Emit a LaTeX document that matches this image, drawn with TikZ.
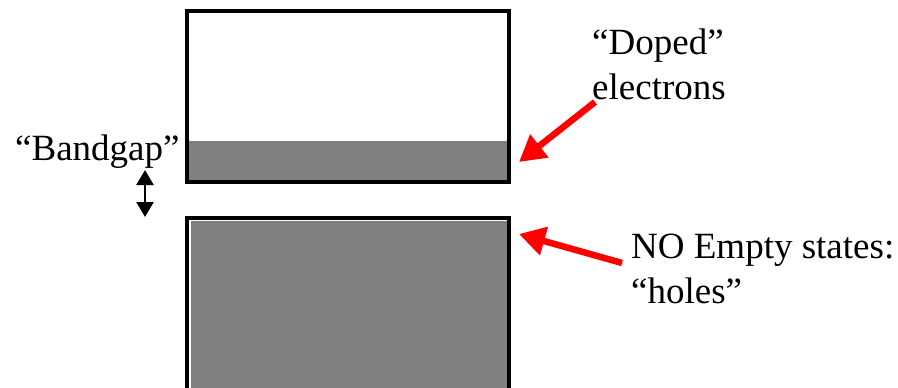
\documentclass[tikz,border=0pt]{standalone}
\usepackage{fontspec}
\setmainfont{Liberation Serif}
\definecolor{bandgray}{RGB}{128, 128, 128}
\definecolor{pointred}{RGB}{255, 0, 0}
\usetikzlibrary{arrows.meta, positioning}

\begin{document}
\begin{tikzpicture}[x=1pt, y=-1pt,
  band/.style={draw=black, line width=3.5pt, rectangle, inner sep=0pt},
  filled/.style={fill=bandgray, rectangle, inner sep=0pt},
  label/.style={anchor=base west, inner sep=0pt, align=left, font=\fontsize{37}{45}\selectfont},
  pointer/.style={-{Triangle[length=26pt, width=28pt]}, pointred, line width=6.5pt}]
  \useasboundingbox (0,0) rectangle (898,388);

  % Conduction band
  \node[filled, minimum width=318pt, minimum height=40pt] (doped) at (348,160.5) {};
  \node[band, minimum width=322pt, minimum height=171pt] (cband) at (348,96.5) {};

  % Valence band
  \node[band, fill=white, minimum width=322pt, minimum height=192pt] (vband) at (348,314) {};
  \node[filled, minimum width=316pt, minimum height=190pt] (holes) at (348.5,316) {};

  % Labels (base = last line)
  \node[label] (gaplabel) at (15,160) {“Bandgap”};
  \node[label] (dopedlabel) at (592,99) {“Doped”\\electrons};
  \node[label] (holelabel) at (631,303) {NO Empty states:\\“holes”};

  % Bandgap arrow
  \coordinate (gaptop) at (145,170);
  \coordinate (gapbottom) at (145,217);
  \draw[{Triangle[length=15pt, width=17pt]}-{Triangle[length=15pt, width=17pt]}, line width=2.5pt] (gaptop) -- (gapbottom);

  % Pointers
  \coordinate (dopedtail) at (595,102);
  \coordinate (dopedtip) at (519,162);
  \coordinate (holetail) at (622,263);
  \coordinate (holetip) at (519,234);
  \draw[pointer] (dopedtail) -- (dopedtip);
  \draw[pointer] (holetail) -- (holetip);
\end{tikzpicture}
\end{document}
